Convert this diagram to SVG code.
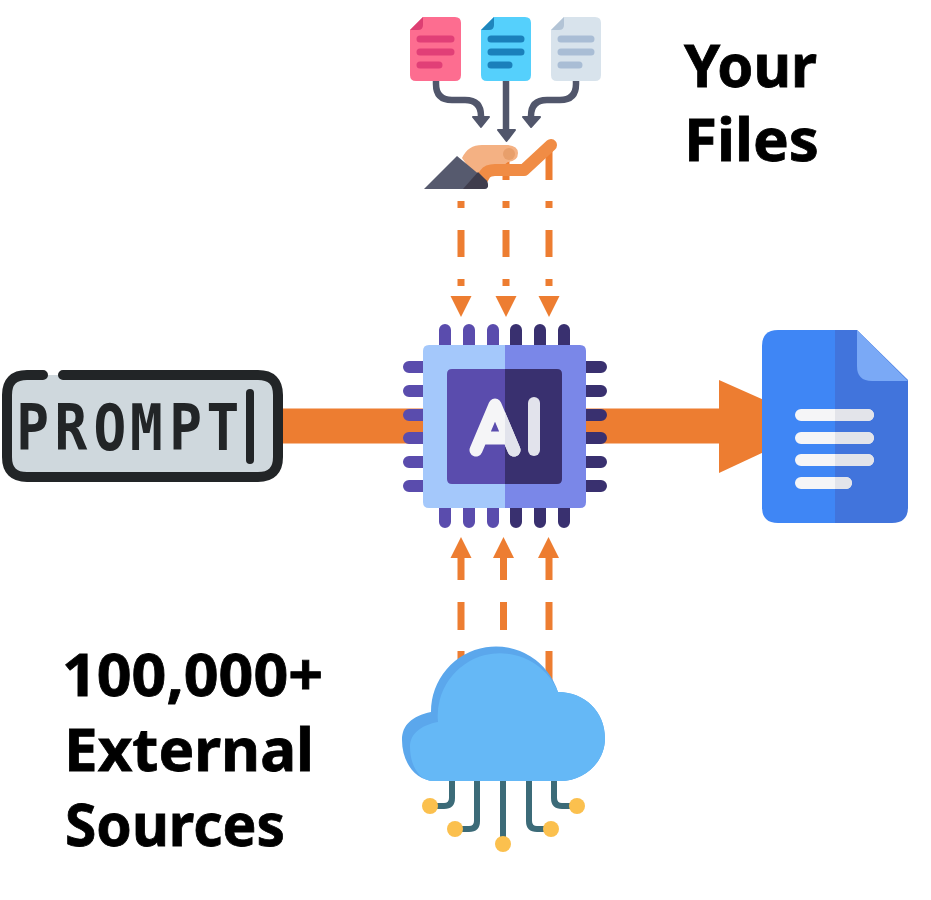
<svg xmlns="http://www.w3.org/2000/svg" width="931" height="900" viewBox="0 0 931 900">
<defs>
<clipPath id="right"><rect x="505" y="369" width="57" height="115"/></clipPath>
</defs>
<style>
.t{font-family:"Noto Sans","Liberation Sans",sans-serif;font-weight:700;font-size:60px;fill:#000;stroke:#000;stroke-width:.8}
.o{stroke:#ed7d31;fill:none;stroke-width:7}
.h{fill:#ed7d31}
.f{stroke:#51566b;stroke-width:6.5;fill:none}
.a{fill:#51566b;stroke:#51566b;stroke-width:2;stroke-linejoin:round}
.c{stroke:#3c6b78;stroke-width:6;fill:none}
.y{fill:#fbc04e}
</style>
<rect width="931" height="900" fill="#fff"/>
<g id="connectors">
<path d="M280 426H720" stroke="#ed7d31" stroke-width="35" fill="none"/>
<path class="h" d="M719 380L764 400V452L719 473Z"/>
<path class="o" d="M506 160V180M549 150V180"/>
<path class="o" d="M461 201V208M461 230V257M461 279V286M506 201V208M506 230V257M506 279V286M549 201V208M549 230V257M549 279V286"/>
<path class="h" d="M450.500 296H471.500L461 317ZM495.500 296H516.500L506 317ZM538.500 296H559.500L549 317Z"/>
<path class="o" d="M461 555V580M461 602V630M461 651V680M503.500 555V580M503.500 602V630M503.500 651V680M549 555V580M549 602V630M549 651V680"/>
<path class="h" d="M450.500 558H471.500L461 537ZM493 558H514L503.500 537ZM538 558H559L548.500 537Z"/>
</g>
<g id="files">
<path d="M410 30L423 17H455Q461 17 461 23V75Q461 81 455 81H416Q410 81 410 75Z" fill="#fd6d90"/>
<path d="M410 30L423 17V25Q423 30 418 30Z" fill="#dd3f73"/>
<path d="M481 30L494 17H525Q531 17 531 23V75Q531 81 525 81H487Q481 81 481 75Z" fill="#55d0fc"/>
<path d="M481 30L494 17V25Q494 30 489 30Z" fill="#1f86bd"/>
<path d="M551 30L564 17H595Q601 17 601 23V75Q601 81 595 81H557Q551 81 551 75Z" fill="#d8e3ec"/>
<path d="M551 30L564 17V25Q564 30 559 30Z" fill="#b3c4d6"/>
<g stroke-width="7" stroke-linecap="round" fill="none">
<path stroke="#e13f77" d="M420 39H451M420 52H451M420 65H439"/>
<path stroke="#1a80bb" d="M491 39H521M491 52H521M491 65H509"/>
<path stroke="#a9bdd5" d="M561 39H591M561 52H591M561 65H579"/>
</g>
</g>
<g id="file-arrows">
<path class="f" d="M436 81V84Q436 100 452 100H465Q481 100 481 116V118"/>
<path class="f" d="M506 81V132"/>
<path class="f" d="M576 81V84Q576 100 560 100H547Q531 100 531 116V118"/>
<path class="a" d="M473 117H489L481 127ZM498 130H515L506.500 141ZM523 117H540L531 127Z"/>
</g>
<g id="hand">
<path d="M462 158Q468 145 482 145H508Q518 146 518 153Q518 161 508 162L495 172L480 184Z" fill="#f4b183"/>
<circle cx="509" cy="154" r="6" fill="#e89f6b"/>
<path d="M481 181L485 174Q488 170 495 170H524L551 145" stroke="#f08c45" stroke-width="12" stroke-linecap="round" stroke-linejoin="round" fill="none"/>
<path d="M424 189L457 156L487 181Q490 189 484 189Z" fill="#565a6e"/>
<path d="M463 189L478 172L487 181Q490 189 484 189Z" fill="#3f3d4d"/>
</g>
<g id="prompt">
<rect x="7" y="375" width="271" height="102" rx="20" fill="#cfd8dd"/>
<path d="M43 375H27Q7 375 7 395V457Q7 477 27 477H258Q278 477 278 457V395Q278 375 258 375H63" fill="none" stroke="#222527" stroke-width="10" stroke-linecap="round"/>
<path d="M250 393V460" stroke="#222527" stroke-width="8" stroke-linecap="round"/>
<text transform="translate(0 450) scale(.85 1)" x="19 64 110 153 199 243" y="0" font-family="'DejaVu Sans Mono','Liberation Mono',monospace" font-weight="700" font-size="64" fill="#222527">PROMPT</text>
</g>
<g id="chip">
<g stroke-width="12" stroke-linecap="round" fill="none">
<path stroke="#5a4cad" d="M445 330V345M469 330V345M493 330V345M445 508V522M469 508V522M493 508V522M409 367H423M409 391H423M409 415H423M409 438H423M409 462H423M409 486H423"/>
<path stroke="#39306f" d="M516 330V345M540 330V345M564 330V345M516 508V522M540 508V522M564 508V522M586 367H601M586 391H601M586 415H601M586 438H601M586 462H601M586 486H601"/>
</g>
<path d="M505 345H429Q423 345 423 351V502Q423 508 429 508H505Z" fill="#a4c8fb"/>
<path d="M505 345H580Q586 345 586 351V502Q586 508 580 508H505Z" fill="#7a87e8"/>
<path d="M505 369H452Q447 369 447 374V479Q447 484 452 484H505Z" fill="#5a4cad"/>
<path d="M505 369H557Q562 369 562 374V479Q562 484 557 484H505Z" fill="#39306f"/>
<path d="M476 450L495 405L514 450M482 438H508" stroke="#f5f5f7" stroke-width="13" stroke-linecap="round" stroke-linejoin="round" fill="none"/>
<path clip-path="url(#right)" d="M476 450L495 405L514 450M482 438H508" stroke="#e2e3ec" stroke-width="13" stroke-linecap="round" stroke-linejoin="round" fill="none"/>
<path d="M534 403V450" stroke="#e2e3ec" stroke-width="12" stroke-linecap="round"/>
</g>
<g id="document">
<path d="M835 330H778Q762 330 762 346V507Q762 523 778 523H835Z" fill="#3f86f5"/>
<path d="M835 330H857L908 380V507Q908 523 892 523H835Z" fill="#4174dc"/>
<path d="M857 330L908 381H872Q857 381 857 366Z" fill="#7aa9f6"/>
<g stroke-width="12" stroke-linecap="round" fill="none">
<path stroke="#f5f5f7" d="M801 415H868M801 438H868M801 460H868M801 483H846"/>
</g>
<path fill="#e3e4ea" d="M835 409H868A6 6 0 0 1 868 421H835ZM835 432H868A6 6 0 0 1 868 444H835ZM835 454H868A6 6 0 0 1 868 466H835ZM835 477H846A6 6 0 0 1 846 489H835Z"/>
</g>
<g id="cloud">
<path d="M435 781C415 781 402 762 402 740C402 725 412 716 431 712A65 65 0 0 1 558 692C585 692 605 712 605 738C605 762 585 781 560 781Z" fill="#5ba7ec"/>
<path d="M433 781C419 781 410 765 410 747C410 733 422 725 438 722A62.500 62.500 0 0 1 558 692C585 692 605 712 605 738C605 762 585 781 560 781Z" fill="#65b8f6"/>
</g>
<g id="cloud-nodes">
<path class="c" d="M452 781V798Q452 806 444 806H432M477 781V821Q477 829 469 829H458M503 781V842M529 781V821Q529 829 537 829H548M554 781V798Q554 806 562 806H574"/>
<circle class="y" cx="430" cy="806" r="8"/><circle class="y" cx="455" cy="829" r="8"/><circle class="y" cx="503" cy="844" r="8"/><circle class="y" cx="551" cy="829" r="8"/><circle class="y" cx="577" cy="806" r="8"/>
</g>
<g id="labels">
<text class="t" x="684" y="87" textLength="133" lengthAdjust="spacingAndGlyphs">Your</text>
<text class="t" x="684" y="161" textLength="135" lengthAdjust="spacingAndGlyphs">Files</text>
<text class="t" x="62" y="696" textLength="261" lengthAdjust="spacingAndGlyphs">100,000+</text>
<text class="t" x="64" y="771" textLength="250" lengthAdjust="spacingAndGlyphs">External</text>
<text class="t" x="65" y="846" textLength="220" lengthAdjust="spacingAndGlyphs">Sources</text>
</g>
</svg>
